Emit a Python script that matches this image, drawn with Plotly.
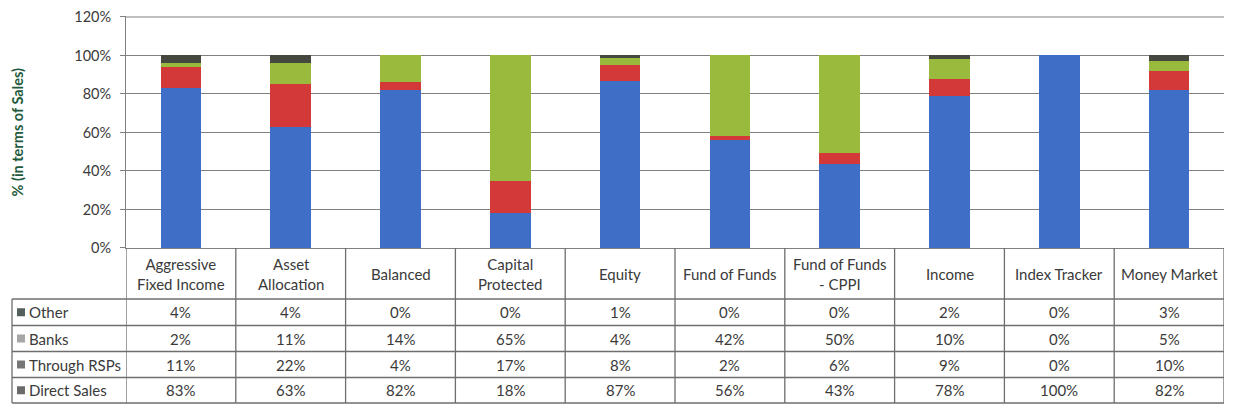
import plotly.graph_objects as go

# the page puts the figure 8px in from the top left corner; keep it inside the window
OFF = 8
W, H = 1233 - 2 * OFF, 412 - 2 * OFF

categories = ["Aggressive Fixed Income", "Asset Allocation", "Balanced", "Capital Protected",
              "Equity", "Fund of Funds", "Fund of Funds - CPPI", "Income", "Index Tracker",
              "Money Market"]
header_labels = ["Aggressive<br>Fixed Income", "Asset<br>Allocation", "Balanced", "Capital<br>Protected",
                 "Equity", "Fund of Funds", "Fund of Funds<br>- CPPI", "Income", "Index Tracker",
                 "Money Market"]

direct_sales = [83, 63, 82, 18, 87, 56, 43, 78, 100, 82]
through_rsps = [11, 22, 4, 17, 8, 2, 6, 9, 0, 10]
banks = [2, 11, 14, 65, 4, 42, 50, 10, 0, 5]
other = [4, 4, 0, 0, 1, 0, 0, 2, 0, 3]

y_title = "% (in terms of Sales)"

# stacking order, bottom first
series = [
  ("Direct Sales", direct_sales, "#3E6EC6", "#6b6b6b"),
  ("Through RSPs", through_rsps, "#D4393A", "#767676"),
  ("Banks", banks, "#9ABA3E", "#a6a6a6"),
  ("Other", other, "#45483F", "#54605a"),
]

# page pixel -> paper coords (margins are zero)
def px(x):
  return (x - OFF) / W

def py(y):
  return 1 - (y - OFF) / H

y_max, y_top = 120.5, 120
plot_left, plot_right, plot_bottom = 126, 1224, 248
top_120 = 17
plot_top = top_120 - (plot_bottom - top_120) / y_top * (y_max - y_top)
row_lines = [299, 325.5, 351.5, 377.5, 403]
table_left = 12
grid = "#808080"
txt = "#3a3a3a"
font = "Lato"
fs = 15

fig = go.Figure()
for name, vals, col, _ in series:
  fig.add_trace(go.Bar(x=categories, y=vals, name=name, marker_color=col,
                       marker_line_width=0, showlegend=False))

fig.update_layout(
  width=W, height=H, barmode="stack", barnorm="percent", bargap=0.63,
  margin=dict(l=0, r=0, t=0, b=0, autoexpand=False),
  paper_bgcolor="white", plot_bgcolor="white",
  font=dict(family=font, size=fs, color=txt),
)
fig.update_xaxes(domain=[px(plot_left), px(plot_right)], range=[-0.5, 9.5], automargin=False,
                 showticklabels=False, ticks="", showgrid=False,
                 showline=True, linecolor=grid, linewidth=1)
fig.update_yaxes(domain=[py(plot_bottom), py(plot_top)], range=[0, y_max], dtick=20, automargin=False,
                 ticksuffix="%", showgrid=True, gridcolor=grid, gridwidth=1,
                 showline=True, linecolor=grid, linewidth=1, ticks="outside",
                 ticklen=5, tickcolor=grid, ticklabelstandoff=6, ticklabeloverflow="allow",
                 tickfont=dict(size=14.5, color=txt), zeroline=False)

shapes = []
# top gridline at 120%
shapes.append(dict(type="line", xref="x domain", yref="y", x0=0, x1=1, y0=y_top, y1=y_top,
                   line=dict(color=grid, width=1), layer="below"))
# table horizontal lines
for y in row_lines:
  shapes.append(dict(type="line", xref="paper", yref="paper", x0=px(table_left), x1=px(plot_right),
                     y0=py(y), y1=py(y), line=dict(color="#6e6e6e", width=1.3)))
# left border of row label column
shapes.append(dict(type="line", xref="paper", yref="paper", x0=px(table_left), x1=px(table_left),
                   y0=py(row_lines[0]), y1=py(row_lines[-1]), line=dict(color="#6e6e6e", width=1.3)))
# column separators (category boundaries)
for k in range(len(categories) + 1):
  shapes.append(dict(type="line", xref="x", yref="paper", x0=k - 0.5, x1=k - 0.5,
                     y0=py(plot_bottom), y1=py(row_lines[-1]), line=dict(color="#6e6e6e", width=1.3)))

annotations = []
# y axis title
annotations.append(dict(text="<b>" + y_title + "</b>", xref="paper", yref="paper", x=px(17),
                        y=py((top_120 + plot_bottom) / 2), xanchor="center", yanchor="middle",
                        textangle=-90, showarrow=False,
                        font=dict(size=14.5, color="#1f5a3c", family=font)))
# header row
for i, lab in enumerate(header_labels):
  annotations.append(dict(text=lab, xref="x", yref="paper", x=i, y=py((plot_bottom + row_lines[0]) / 2),
                          xanchor="center", yanchor="middle", showarrow=False,
                          font=dict(size=fs, color=txt)))
# data rows, top row is the last stacked series
for r, (name, vals, _, key) in enumerate(reversed(series)):
  yc = py((row_lines[r] + row_lines[r + 1]) / 2)
  shapes.append(dict(type="rect", xref="paper", yref="paper", x0=px(17), x1=px(25),
                     y0=yc - 4 / H, y1=yc + 4 / H, fillcolor=key, line=dict(width=0)))
  annotations.append(dict(text=name, xref="paper", yref="paper", x=px(27), y=yc,
                          xanchor="left", yanchor="middle",
                          showarrow=False, font=dict(size=fs, color=txt)))
  for i, v in enumerate(vals):
    annotations.append(dict(text=f"{v}%", xref="x", yref="paper", x=i, y=yc,
                            xanchor="center", yanchor="middle",
                            showarrow=False, font=dict(size=fs, color=txt)))

fig.update_layout(shapes=shapes, annotations=annotations)
fig.write_html("out.html")
